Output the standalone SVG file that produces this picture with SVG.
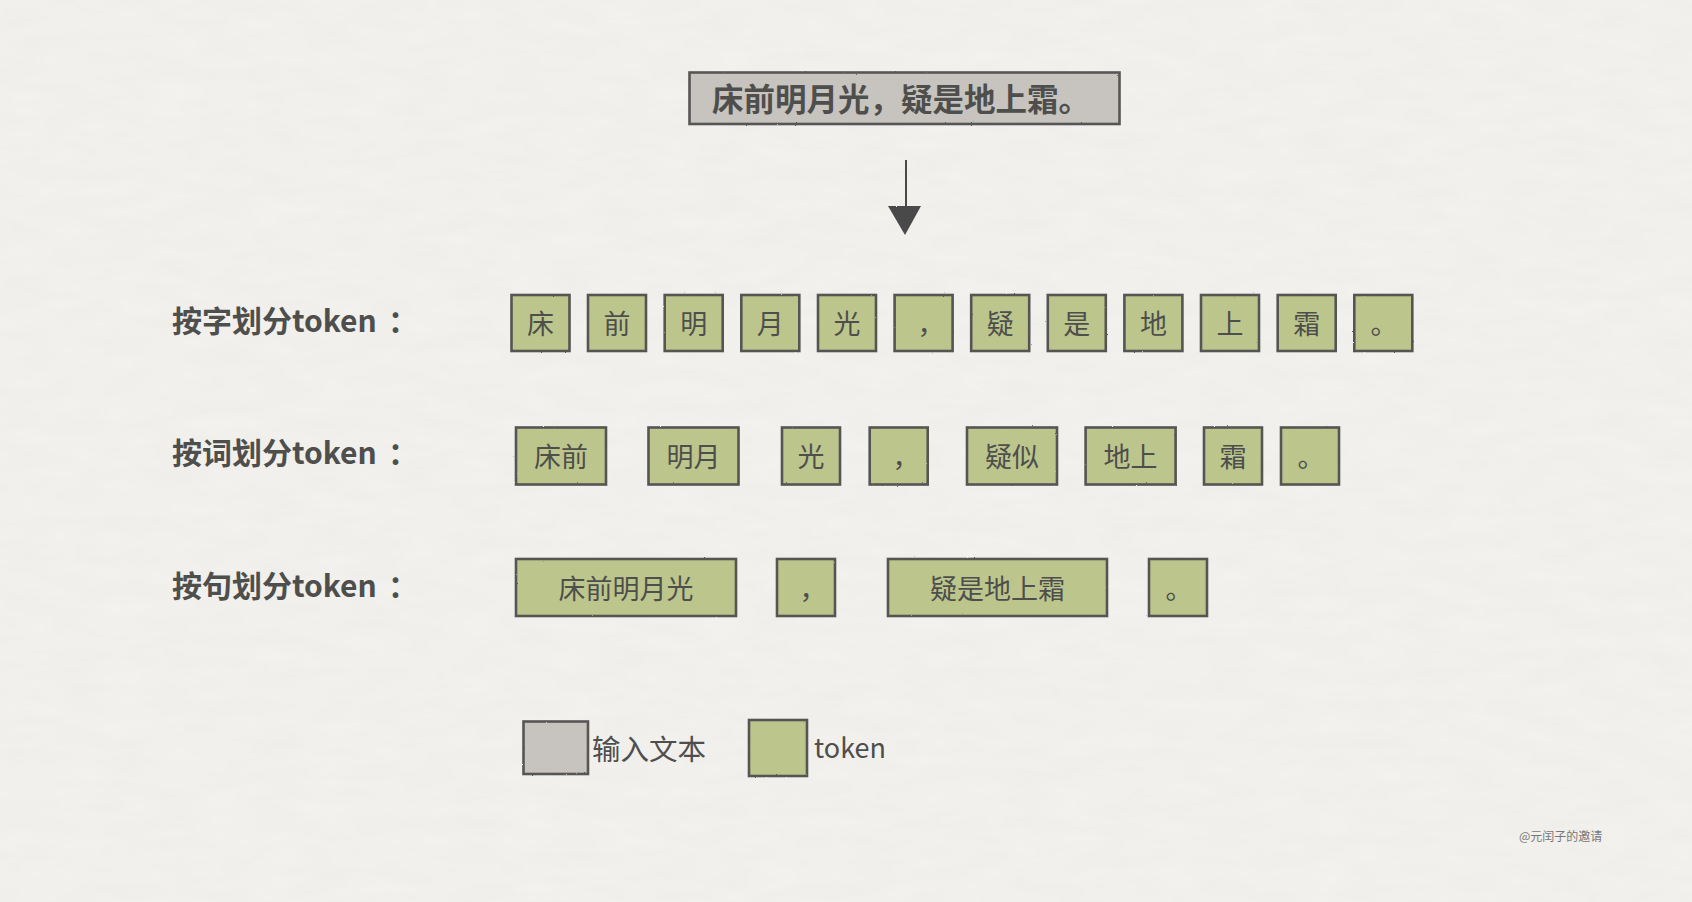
<svg xmlns="http://www.w3.org/2000/svg" width="1692" height="902" viewBox="0 0 1692 902">
<defs>
<filter id="paper" x="0" y="0" width="100%" height="100%">
<feTurbulence type="fractalNoise" baseFrequency="0.02 0.06" numOctaves="4" seed="3" result="n"/>
<feColorMatrix in="n" type="matrix" values="0 0 0 0 0.55  0 0 0 0 0.55  0 0 0 0 0.52  0 0 0 0.10 0"/>
</filter>
<filter id="rough" x="-5%" y="-5%" width="110%" height="110%">
<feTurbulence type="fractalNoise" baseFrequency="0.9" numOctaves="2" seed="7" result="t"/>
<feDisplacementMap in="SourceGraphic" in2="t" scale="1.6" xChannelSelector="R" yChannelSelector="G"/>
</filter>
<style>
.bg{fill:#f3f2ef}
.gray{fill:#c7c3be;stroke:#575654;stroke-width:2.6}
.tok{fill:#bcc68c;stroke:#555452;stroke-width:2.6}
.t{font-family:"Noto Sans CJK SC","Noto Sans",sans-serif;fill:#4e4e4c;dominant-baseline:central}
.tk{font-size:27px;text-anchor:middle}
.lbl{font-size:30px;font-weight:700}
.title{font-size:31.5px;font-weight:700}
.leg{font-size:28.5px}
.leg2{font-size:27px}
.wm{font-size:12px;fill:#777}
</style>
</defs>
<rect class="bg" x="0" y="0" width="1692" height="902"/>
<rect x="0" y="0" width="1692" height="902" filter="url(#paper)"/>

<g id="input">
<rect class="gray" x="689.5" y="72.5" width="430" height="51.5" filter="url(#rough)"/>
<text class="t title" x="712" y="97">床前明月光，疑是地上霜。</text>
</g>

<g id="connectors">
<path d="M905.5 160 L906.5 206" stroke="#4a4a48" stroke-width="5" fill="none" filter="url(#rough)"/>
<path d="M888 206 L921 206 L905 235 Z" fill="#4a4a48" filter="url(#rough)"/>
</g>

<g id="label-char"><text class="t lbl" x="172" y="319">按字划分token</text><text class="t lbl" x="388" y="319">：</text></g>
<g id="label-word"><text class="t lbl" x="172" y="451">按词划分token</text><text class="t lbl" x="388" y="451">：</text></g>
<g id="label-sent"><text class="t lbl" x="172" y="584">按句划分token</text><text class="t lbl" x="388" y="584">：</text></g>

<g id="row-char">
<g id="c1"><rect class="tok" x="511.5" y="295" width="58" height="56" filter="url(#rough)"/><text class="t tk" x="540.5" y="322">床</text></g>
<g id="c2"><rect class="tok" x="588" y="295" width="58" height="56" filter="url(#rough)"/><text class="t tk" x="617" y="322">前</text></g>
<g id="c3"><rect class="tok" x="664.7" y="295" width="58" height="56" filter="url(#rough)"/><text class="t tk" x="693.7" y="322">明</text></g>
<g id="c4"><rect class="tok" x="741.3" y="295" width="58" height="56" filter="url(#rough)"/><text class="t tk" x="770.3" y="322">月</text></g>
<g id="c5"><rect class="tok" x="818" y="295" width="58" height="56" filter="url(#rough)"/><text class="t tk" x="847" y="322">光</text></g>
<g id="c6"><rect class="tok" x="894.6" y="295" width="58" height="56" filter="url(#rough)"/><text class="t tk" x="931" y="322">，</text></g>
<g id="c7"><rect class="tok" x="971.2" y="295" width="58" height="56" filter="url(#rough)"/><text class="t tk" x="1000.2" y="322">疑</text></g>
<g id="c8"><rect class="tok" x="1047.8" y="295" width="58" height="56" filter="url(#rough)"/><text class="t tk" x="1076.8" y="322">是</text></g>
<g id="c9"><rect class="tok" x="1124.4" y="295" width="58" height="56" filter="url(#rough)"/><text class="t tk" x="1153.4" y="322">地</text></g>
<g id="c10"><rect class="tok" x="1201" y="295" width="58" height="56" filter="url(#rough)"/><text class="t tk" x="1230" y="322">上</text></g>
<g id="c11"><rect class="tok" x="1277.7" y="295" width="58" height="56" filter="url(#rough)"/><text class="t tk" x="1306.7" y="322">霜</text></g>
<g id="c12"><rect class="tok" x="1354.3" y="295" width="58" height="56" filter="url(#rough)"/><text class="t tk" x="1384" y="322">。</text></g>
</g>

<g id="row-word">
<g id="w1"><rect class="tok" x="516" y="427.5" width="90" height="57" filter="url(#rough)"/><text class="t tk" x="561" y="455">床前</text></g>
<g id="w2"><rect class="tok" x="648.5" y="427.5" width="90" height="57" filter="url(#rough)"/><text class="t tk" x="693.5" y="455">明月</text></g>
<g id="w3"><rect class="tok" x="782" y="427.5" width="58" height="57" filter="url(#rough)"/><text class="t tk" x="811" y="455">光</text></g>
<g id="w4"><rect class="tok" x="869.7" y="427.5" width="58" height="57" filter="url(#rough)"/><text class="t tk" x="906" y="455">，</text></g>
<g id="w5"><rect class="tok" x="967" y="427.5" width="90" height="57" filter="url(#rough)"/><text class="t tk" x="1012" y="455">疑似</text></g>
<g id="w6"><rect class="tok" x="1085.6" y="427.5" width="90" height="57" filter="url(#rough)"/><text class="t tk" x="1130.6" y="455">地上</text></g>
<g id="w7"><rect class="tok" x="1204" y="427.5" width="58" height="57" filter="url(#rough)"/><text class="t tk" x="1233" y="455">霜</text></g>
<g id="w8"><rect class="tok" x="1281" y="427.5" width="58" height="57" filter="url(#rough)"/><text class="t tk" x="1311" y="455">。</text></g>
</g>

<g id="row-sent">
<g id="s1"><rect class="tok" x="516" y="559" width="220" height="57" filter="url(#rough)"/><text class="t tk" x="626" y="587">床前明月光</text></g>
<g id="s2"><rect class="tok" x="777" y="559" width="58" height="57" filter="url(#rough)"/><text class="t tk" x="813" y="587">，</text></g>
<g id="s3"><rect class="tok" x="888" y="559" width="219" height="57" filter="url(#rough)"/><text class="t tk" x="997.5" y="587">疑是地上霜</text></g>
<g id="s4"><rect class="tok" x="1149" y="559" width="58" height="57" filter="url(#rough)"/><text class="t tk" x="1179" y="587">。</text></g>
</g>

<g id="legend">
<g id="legend-input"><rect class="gray" x="523.5" y="721.5" width="64.5" height="52.5" filter="url(#rough)"/><text class="t leg" x="592" y="747">输入文本</text></g>
<g id="legend-token"><rect class="tok" x="749" y="720" width="58" height="56" filter="url(#rough)"/><text class="t leg2" x="814" y="746">token</text></g>
</g>

<text class="t wm" x="1519" y="835">@元闰子的邀请</text>
</svg>
